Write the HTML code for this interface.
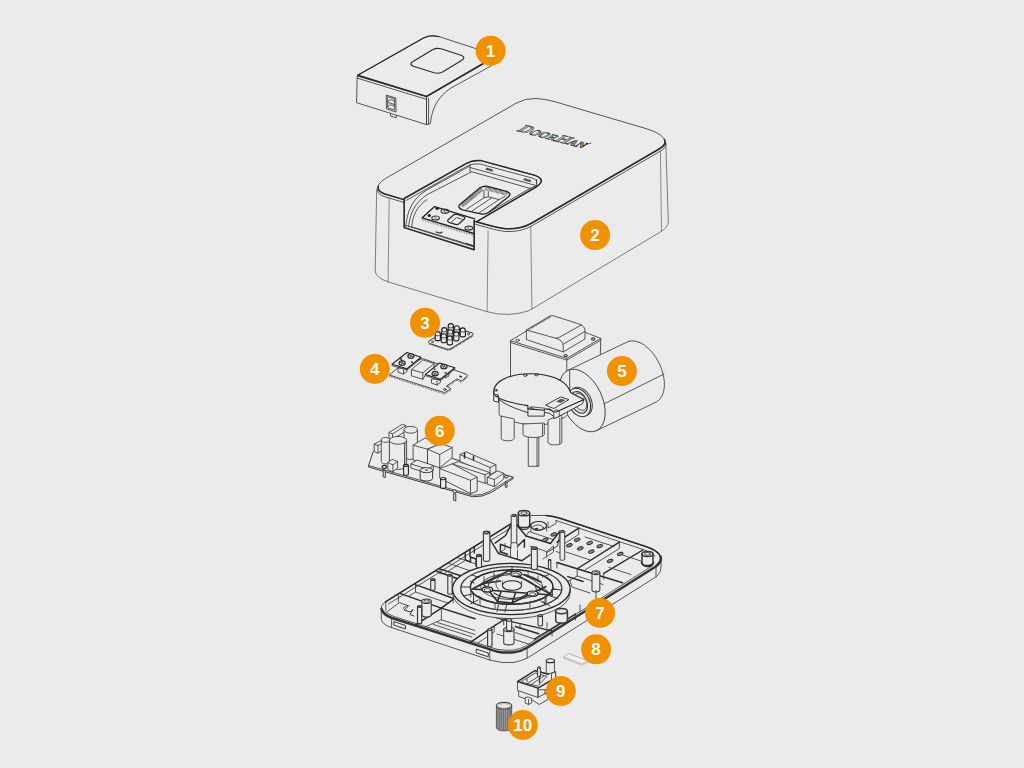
<!DOCTYPE html>
<html><head><meta charset="utf-8">
<style>
html,body{margin:0;padding:0;background:#ebebeb;overflow:hidden}
svg{display:block}
.l{fill:none;stroke:#3a3a3a;stroke-width:.85;stroke-linecap:round;stroke-linejoin:round}
.t{fill:none;stroke:#2a2a2a;stroke-width:1.5;stroke-linecap:round;stroke-linejoin:round}
.f{fill:#ebebeb;stroke:#3a3a3a;stroke-width:.85;stroke-linejoin:round}
.g{fill:none;stroke:#9a9a9a;stroke-width:.6;stroke-linejoin:round}
.b circle{fill:#f29100}
.b text{fill:#fff;font-family:"Liberation Sans",sans-serif;font-weight:bold;font-size:17px;text-anchor:middle}
</style></head>
<body>
<svg width="1024" height="768" viewBox="0 0 1024 768">
<rect width="1024" height="768" fill="#ebebeb"/>
<g id="p1">
<path class="f" d="M357.7 75.3 L423.5 38 Q430.5 34.3 439 36.6 L497 55.5 L426.5 96.5 Z"/>
<path class="f" d="M357.2 76 L356.6 102.7 L426.5 124.6 L426.5 96.5 Z"/>
<path class="f" d="M426.5 124.6 L430.3 123.6 C432 108 438 96.5 451 88 L491 66 L497 56 L426.5 96.5 Z"/>
<path class="t" d="M357.7 75.3 L426.5 96.5 L497 55.5"/><path class="l" style="stroke-width:1.15;stroke:#2a2a2a" d="M357.7 75.3 L423.5 38 Q430.5 34.3 439 36.6"/>
<path class="l" d="M357.4 78.2 L426.3 99.3 M426.5 96.5 L426.5 124.6 M428.6 98 L428.6 124"/>
<path class="l" style="stroke-width:1.15;stroke:#2a2a2a" d="M413 61.5 L432.5 49.8 Q436.5 47.6 441 48.8 L461 55.3 Q466.5 57.3 461.5 60.6 L442.5 72 Q438.5 74 434 72.8 L413.5 66.3 Q408.5 64.3 413 61.500 Z"/>
<path class="l" d="M386.6 95.2 L395.8 98 L396 112 L386.8 109 Z M388 96.7 L394.6 98.8 L394.7 110 L388.1 108 Z M388.2 101 Q391.5 98 394.5 101.6 M388.2 106 Q391.5 103.200 394.500 106.800 M388.200 102.5 L394.5 104.500"/>
<path class="l" d="M390.5 113.600 L390.500 116 L396.300 117.800 L396.300 115.400"/>
</g>
<g id="p2">
<!-- body -->
<path class="f" style="stroke-width:.7;stroke:#4a4a4a" d="M376.7 189 L375.2 271 Q375.5 277.500 388.100 281.900 L487.100 311.700 Q508 317.500 528 311 L531.9 309 L660 232.200 Q668.300 227 668.300 222 L665.800 143 Z"/>
<!-- top face -->
<path class="f" d="M379 184 Q382.500 180 387 177.600 L516 103.300 Q525 98 536 98.500 Q545 99 554.200 101.500 L646 128.600 Q659 132.500 663.500 138 Q667.500 143.500 660 148.500 L531 223.500 Q520 229.500 505.800 228.750 Q497 228 475.600 221.500 L403.750 199.600 L384 193.700 Q375 190.500 379 184 Z"/>
<path class="t" d="M378.200 186.500 Q377.300 190.800 384 193.700 L403.750 199.600 M475.600 221.500 Q497 228 505.800 228.750 Q520 229.500 531 223.500 L660 148.500 Q667 144 664.500 139.500"/>
<path class="l" d="M377.500 190.500 Q378 194.500 384 196.500 L403.750 202.400 M475.600 224.300 Q497 230.800 505.800 231.500 Q520 232.300 531 226.300 L661 150.800 Q666.500 147.500 666 143.500"/>
<path class="l" style="stroke-width:.65;stroke:#555" d="M389.200 198 L388.100 281.900 M488.100 230.800 L487.100 311.700 M530.800 227 L531.900 309 M660.400 151.500 L661.500 231.500"/>
</g>
<g id="p2cut">
<path class="f" d="M404.200 198.500 L466 163.600 Q473 159.600 481 160.600 L535 175.400 Q543.500 178.300 540.500 183 Q539.500 185 536 187 L476.700 221.700 L474.200 220.400 L474.200 249.800 L404.200 227.600 Z"/>
<path class="t" d="M404.200 227.600 L404.200 198.500 L466 163.600 Q473 159.600 481 160.600 L535 175.400 Q543.500 178.300 540.500 183 Q539.500 185 536 187 L476.700 221.700 M474.200 220.400 L474.200 249.800 L404.200 227.600"/>
<!-- inner rim -->
<path class="l" d="M406 200.500 L467 166.200 Q473 163 480 164 L532 178 Q538.500 180.300 536.500 183.500"/>
<path class="l" d="M470 164.500 L470 171.500 M536.600 179.500 L536.600 185.500"/>
<!-- back wall -->
<path class="l" d="M470 167.500 L536 185.500 M471.700 171.700 L530 188.400 M530 188.400 L536.500 185.700"/>
<path d="M486 167.500 l7 2 l-.5 2.300 l-7 -2z M524 178 l7 2 l-.5 2.300 l-7 -2z" fill="#555"/>
<!-- left curved wall -->
<path class="l" d="M405.800 226.500 C407 212 412 199 426 190.500 L469 166.500"/>
<path class="l" d="M408.500 227 C410 213 415 202 428 194.200 L471.700 171.700"/>
<path class="l" d="M411.500 227.500 C412.500 216 416.500 206.500 427 199.500"/>
<!-- floor lines -->
<path class="l" d="M530 188.400 L489 212.200"/>
<!-- fingerprint rect -->
<path class="f" d="M460.500 204 L480 187.800 Q483.500 185.600 487.500 186.500 L506.500 191.300 Q512 193.300 508.500 196.800 L488.500 212.500 Q485 214.800 481 213.800 L462.500 209.800 Q456.500 207.500 460.500 204 Z" style="stroke-width:1.35;stroke:#222"/>
<path d="M461.800 205.800 L482.300 188.800" fill="none" stroke="#444" stroke-width="4" stroke-dasharray=".55 .5"/>
<path d="M485.500 188.200 L507.500 194" fill="none" stroke="#444" stroke-width="4" stroke-dasharray=".55 .7"/>
<path class="l" d="M484 190.500 L484 197.800 L466.500 209.200 M488.300 191.500 L488.300 196.800 L484 197.800 M488.300 196.800 L499 199.600 M472 211 L491.500 198 M479.500 212.600 L499 199.600 L505 196.300"/>
<!-- front panel -->
<path class="l" d="M434.600 206.600 L474.700 218.800 M422 217.900 L434.600 206.600 M422 217.900 L473.700 233.500" style="stroke-width:1.35;stroke:#222"/>
<path d="M422 219.800 L473.700 235.400" fill="none" stroke="#666" stroke-width="1.800" stroke-dasharray=".6 1.1"/>
<ellipse cx="437.100" cy="208.600" rx="1.700" ry="1.500" fill="#222"/><ellipse cx="444.900" cy="211.200" rx="3.800" ry="2" class="l" style="stroke-width:1.200"/><path class="l" d="M443 209.500 L446 213"/>
<ellipse cx="429.300" cy="215.400" rx="1.700" ry="1.500" fill="#222"/><ellipse cx="435.600" cy="218" rx="3.800" ry="2" class="l" style="stroke-width:1.200"/><path class="l" d="M434 216.300 L437 219.800"/>
<ellipse cx="468.800" cy="228.100" rx="3.800" ry="2" class="l" style="stroke-width:1.200"/><path class="l" d="M467 226.400 L470 229.900"/>
<path class="t" d="M448.200 219.700 L453.500 215 Q455 214 457 214.500 L463.500 216.500 Q465.800 217.500 464.300 219 L459 223.800 Q457.500 225 455.500 224.400 L449 222.400 Q446.800 221.300 448.200 219.700 Z" style="stroke-width:1.200"/>
<path class="l" d="M451.500 222 L456.500 217.500 L462 219.200"/>
<!-- bottom bar -->
<path class="l" d="M411.700 226.800 L473.300 245.800 M406 225.500 L474 247"/>
<path class="l" d="M436 232 l4 1.200 l2 -1 M466 243.500 l7 2.200" style="stroke-width:1.300"/>
</g>
<g opacity=".99" transform="matrix(1.536,0.410,-1.42,0.90,516.2,130.7)"><text x="0" y="0" font-family="'Liberation Serif',serif" font-weight="bold" font-size="10" fill="#b5b5b5" stroke="#151515" stroke-width=".36"><tspan>D</tspan><tspan font-size="7.5">OOR</tspan><tspan>H</tspan><tspan font-size="7.5">AN</tspan></text></g>
<circle cx="590.300" cy="143.300" r=".7" fill="#333"/>
<g id="p3">
<path class="f" d="M429.300 340.700 L452 327 L472.500 333 Q474 334 472.500 335.300 L451 348.500 Q449 349.700 446.500 349 L429.500 343.500 Q427.300 342.300 429.300 340.700 Z" style="stroke-width:1"/>
<path d="M429 343.800 L447 349.800 Q449 350.500 451 349.300 L473 335.800" fill="none" stroke="#444" stroke-width="1.500" stroke-dasharray=".8 .8"/>
<circle cx="432.500" cy="341.800" r="1" class="l"/><circle cx="468.500" cy="334" r="1" class="l"/>
<path d="M448.2 331.5 L448.2 326.5 A2.6 2.9 0 0 1 453.4 326.5 L453.4 331.5 A2.6 1.2 0 0 1 448.2 331.5Z" fill="#ebebeb" stroke="#1e1e1e" stroke-width="1.15"/><path d="M448.4 326.8 A2.4 1.1 0 0 0 453.2 326.8" class="l"/>
<path d="M454.2 333.6 L454.2 328.6 A2.6 2.9 0 0 1 459.4 328.6 L459.4 333.6 A2.6 1.2 0 0 1 454.2 333.6Z" fill="#ebebeb" stroke="#1e1e1e" stroke-width="1.15"/><path d="M454.4 328.9 A2.4 1.1 0 0 0 459.2 328.9" class="l"/>
<path d="M460.2 335.7 L460.2 330.7 A2.6 2.9 0 0 1 465.4 330.7 L465.4 335.7 A2.6 1.2 0 0 1 460.2 335.7Z" fill="#ebebeb" stroke="#1e1e1e" stroke-width="1.15"/><path d="M460.4 331.0 A2.4 1.1 0 0 0 465.2 331.0" class="l"/>
<path d="M441.7 335.5 L441.7 330.5 A2.6 2.9 0 0 1 446.9 330.5 L446.9 335.5 A2.6 1.2 0 0 1 441.7 335.5Z" fill="#ebebeb" stroke="#1e1e1e" stroke-width="1.15"/><path d="M441.9 330.8 A2.4 1.1 0 0 0 446.7 330.8" class="l"/>
<path d="M447.7 337.6 L447.7 332.6 A2.6 2.9 0 0 1 452.9 332.6 L452.9 337.6 A2.6 1.2 0 0 1 447.7 337.6Z" fill="#ebebeb" stroke="#1e1e1e" stroke-width="1.15"/><path d="M447.9 332.9 A2.4 1.1 0 0 0 452.7 332.9" class="l"/>
<path d="M453.7 339.7 L453.7 334.7 A2.6 2.9 0 0 1 458.9 334.7 L458.9 339.7 A2.6 1.2 0 0 1 453.7 339.7Z" fill="#ebebeb" stroke="#1e1e1e" stroke-width="1.15"/><path d="M453.9 335.0 A2.4 1.1 0 0 0 458.7 335.0" class="l"/>
<path d="M435.2 339.5 L435.2 334.5 A2.6 2.9 0 0 1 440.4 334.5 L440.4 339.5 A2.6 1.2 0 0 1 435.2 339.5Z" fill="#ebebeb" stroke="#1e1e1e" stroke-width="1.15"/><path d="M435.4 334.8 A2.4 1.1 0 0 0 440.2 334.8" class="l"/>
<path d="M441.2 341.6 L441.2 336.6 A2.6 2.9 0 0 1 446.4 336.6 L446.4 341.6 A2.6 1.2 0 0 1 441.2 341.6Z" fill="#ebebeb" stroke="#1e1e1e" stroke-width="1.15"/><path d="M441.4 336.9 A2.4 1.1 0 0 0 446.2 336.9" class="l"/>
<path d="M447.2 343.7 L447.2 338.7 A2.6 2.9 0 0 1 452.4 338.7 L452.4 343.7 A2.6 1.2 0 0 1 447.2 343.7Z" fill="#ebebeb" stroke="#1e1e1e" stroke-width="1.15"/><path d="M447.4 339.0 A2.4 1.1 0 0 0 452.2 339.0" class="l"/>
</g>
<g id="p4">
<!-- board -->
<path class="f" d="M389.400 375 L406 361 L423.700 358.800 L467 374.500 Q468.300 375.300 467.200 376.300 L461.400 381 L457 378.800 L446.500 386 L450.900 388.500 L444.750 392.700 Z" style="stroke-width:.9"/>
<path d="M389.400 376.200 L444.750 394 L450.900 389.700" fill="none" stroke="#555" stroke-width="1.500" stroke-dasharray=".7 1"/>
<path d="M446.800 387 L457 380 L461.400 382.200 L467.500 377.200" fill="none" stroke="#555" stroke-width="1.300" stroke-dasharray=".7 .9"/>
<circle cx="444.800" cy="389.400" r="1.100" class="l" style="stroke-width:1"/><rect x="459.500" y="375.500" width="2.600" height="1.600" fill="#333" transform="rotate(18 460 376)"/>
<!-- left terminal under-box -->
<path class="f" d="M398 368 L398 372.200 L403.500 374 L407 371.500 L407 368.500 Z"/><path class="l" d="M403.500 370 L403.500 374"/>
<!-- left terminal plate -->
<path class="f" d="M392 364.300 L407 352.500 L421 357.300 L407 368.700 Z" style="stroke-width:1.100;stroke:#222"/>
<path class="l" d="M392 365.600 L407 370 L421 358.600"/>
<ellipse cx="410.9" cy="356" rx="3.1" ry="2.3" class="f" style="stroke-width:1.1;stroke:#222"/><path class="l" d="M408.29999999999995 355 L413.5 357 M409.7 357.9 L412.09999999999997 354.1"/><ellipse cx="402.1" cy="363" rx="3.1" ry="2.3" class="f" style="stroke-width:1.1;stroke:#222"/><path class="l" d="M399.5 362 L404.70000000000005 364 M400.90000000000003 364.9 L403.3 361.1"/>
<path class="t" d="M400.300 357.500 L402 361"/><rect x="411" y="361.500" width="2" height="1.300" fill="#222"/>
<!-- relay box -->
<path class="f" d="M411.400 369.600 L422.800 359.900 L434.200 363.500 L434.200 368 L425.400 375 L422.800 379.300 L411.400 375.750 Z"/>
<path class="l" d="M411.400 369.600 L422.800 372.900 L434.200 363.500 M422.800 372.900 L422.800 379.300"/>
<!-- right terminal under-box -->
<path class="f" d="M431.500 379 L431.500 383.200 L437 385 L440.400 382.500 L440.400 379.500 Z"/><path class="l" d="M437 381 L437 385"/>
<path class="f" d="M445 375 L445 378 L449 376 L449 373 Z"/>
<!-- right terminal plate -->
<path class="f" d="M425.400 374.400 L439.500 363 L454.900 367.800 L440.400 379.300 Z" style="stroke-width:1.100;stroke:#222"/>
<path class="l" d="M425.400 375.700 L440.400 380.600 L454.900 369.100"/>
<ellipse cx="443.9" cy="366.5" rx="3.1" ry="2.3" class="f" style="stroke-width:1.1;stroke:#222"/><path class="l" d="M441.29999999999995 365.5 L446.5 367.5 M442.7 368.4 L445.09999999999997 364.6"/><ellipse cx="435.1" cy="373.6" rx="3.1" ry="2.3" class="f" style="stroke-width:1.1;stroke:#222"/><path class="l" d="M432.5 372.6 L437.70000000000005 374.6 M433.90000000000003 375.5 L436.3 371.70000000000005"/>
<rect x="433.500" y="368.500" width="2" height="1.300" fill="#222"/><rect x="444.500" y="372.200" width="2" height="1.300" fill="#222"/>
<path class="l" d="M389.400 369 L384 372.500"/>
</g>
<g id="p5">
<!-- box -->
<path class="f" d="M510.500 340.700 L548 318 L600.800 338.400 L600.200 360 L566.800 378 L566.800 380 L516 378.200 L510.500 376.500 Z"/>
<path class="l" d="M510.500 340.700 L566.800 358.300 L600.800 338.400 M566.800 358.300 L566.800 372 M510.600 342.500 L566.800 360.100 L600.700 340.200"/>
<ellipse cx="517.600" cy="340.300" rx="1.700" ry="1.100" class="l"/><ellipse cx="593.200" cy="339" rx="1.700" ry="1.100" class="l" style="stroke-width:1.100"/><ellipse cx="565.600" cy="355.600" rx="1.700" ry="1.100" class="l" style="stroke-width:1.100"/>
<!-- lid -->
<path class="f" d="M526.400 330 L550 316 Q551.600 315.200 553.500 315.800 L580 324.300 Q585 326.300 585 331 L585 339 L563.300 351.900 L526.400 339.600 Z"/>
<path class="l" d="M526.400 330 L556 338.300 Q562.500 340 563.300 346 L563.300 351.900 M556 338.300 Q560 337.500 562 335.800 L581.500 324.900 M563.600 344 L585 331.400"/>
<path d="M528.500 329.600 L551 316.500" fill="none" stroke="#444" stroke-width="1.500" stroke-dasharray=".7 .7"/>
<path class="f" d="M567.8 370.4 L627.8 341.7 A19.9 33.4 -25.6 0 1 656.6 401.9 L596.6 430.6 Z"/><ellipse class="f" cx="582.2" cy="400.5" rx="19.9" ry="33.4" transform="rotate(-25.6 582.2 400.5)"/><path class="l" d="M604.2 403.8 L663.9 374.1"/><ellipse class="f" cx="580.9" cy="401.6" rx="10.4" ry="15" transform="rotate(-25.6 580.9 401.6)" style="stroke-width:1"/><ellipse class="f" cx="579.2" cy="402.4" rx="10.4" ry="15" transform="rotate(-25.6 579.2 402.4)" style="stroke-width:1.1"/><ellipse class="f" cx="579.2" cy="402.4" rx="7.6" ry="11.4" transform="rotate(-25.6 579.2 402.4)" style="stroke-width:1.1"/><ellipse class="f" cx="580.2" cy="401.9" rx="5.8" ry="9" transform="rotate(-25.6 580.2 401.9)" style="stroke-width:0.8"/>
<path class="l" d="M569.700 370 L569.700 392"/>
<!-- gear cover lower body -->
<path class="f" d="M499.100 400 L499.100 414.700 Q502 418.500 507.300 420.200 Q521 424.500 535 425 Q545 425 548.400 423.600 L564.800 417.400 L567.500 414.700 L567.500 405 Z"/>
<!-- legs -->
<path class="f" d="M501.200 416 L501.200 438.500 A6.500 2.300 0 0 0 514.200 438.500 L514.200 419 Z"/>
<path class="f" d="M548 420 L548 442.500 A6.900 2.400 0 0 0 561.800 442.500 L561.800 414 Z"/>
<path class="l" d="M559.800 418 L559.800 443.800"/>
<path class="f" d="M528.300 430 L528.300 466.300 L538.800 466.300 L538.800 430 Z"/><path class="l" d="M537 436 L537 466"/>
<path class="f" d="M523 424 L523 434.500 A10.650 3 0 0 0 544.300 434.500 L544.300 423 Z"/><path class="l" d="M542.500 424 L542.500 435.500"/>
<!-- gear cover rim (lower outline) -->
<path class="f" d="M493.700 392 L493.700 401 L498.500 402.400 L498.500 398.500 C503 403.500 513 408 527.900 412.600 L527.900 416.100 L544.300 416.100 L544.300 412.500 L549 413 L553.800 416.500 L553.800 418.800 L559.200 416.300 L582.500 403.750 L583.900 399.600 L553.500 411 Z" style="stroke-width:1"/>
<!-- gear cover top -->
<path class="f" d="M493.700 391.700 C493.700 380 512 373.400 532 373.700 C549 374 563.500 379.500 568.900 388.700 L570.900 392.800 L583.900 399.600 L556.600 411.700 L553.800 412 L549.500 409 L545 409 L544.300 410.300 L527.900 408.900 L527.900 405.600 C508 402.500 493.700 398.500 493.700 391.700 Z" style="stroke-width:1.100;stroke:#222"/>
<path class="l" d="M498.500 398.500 L498.500 395.200 M527.900 412.600 L527.900 408.900 M544.300 412.500 L544.300 410.300 M553.800 412 L553.800 416.500 M559.200 410.700 L559.200 416.300 M527.900 408.900 L531 406.800 L545 408.200"/>
<path class="f" d="M545.600 405.100 L560.700 396.900 L568.900 399.600 L553.800 408.500 Z" style="stroke-width:1"/>
<path d="M556 401.500 L561 398.700 L565.500 400.100 L560.500 403 Z" fill="#555"/>
<ellipse cx="495.800" cy="390.300" rx="1.600" ry="1" class="l" style="stroke-width:1"/><ellipse cx="496.800" cy="395.600" rx="1.600" ry="1.100" class="l" style="stroke-width:1"/>
<ellipse cx="525.300" cy="375.300" rx="1.700" ry="1.100" class="l" style="stroke-width:1"/><ellipse cx="536.300" cy="374.800" rx="1.700" ry="1.100" class="l" style="stroke-width:1"/>
<ellipse cx="531.500" cy="408.500" rx="1.500" ry="1" class="l"/><ellipse cx="556.500" cy="410.500" rx="1.300" ry=".9" class="l"/>
</g>
<g id="p6">
<!-- board -->
<path class="f" d="M373.300 451.400 L392 440 L513.100 477.200 L513.100 478.700 L491.500 492.300 Q482 497.500 472.500 496.700 L368.600 467 L368.600 465.500 Z" style="stroke-width:1"/>
<path class="l" d="M368.600 465.500 L472.500 495.200 Q482 496 490 491.200 L513.100 477.200"/>
<!-- pins -->
<path class="f" d="M383.200 470 L383.200 477 L385.300 477.500 L385.300 470.500 Z M453.700 493.500 L453.700 500.300 L455.800 500.800 L455.800 494 Z M505.300 481.500 L505.300 487 L507 487.300 L507 481.800 Z" style="stroke-width:1"/>
<ellipse cx="454.700" cy="491.300" rx="2" ry="1.300" class="f" style="stroke-width:1"/><ellipse cx="506.200" cy="476.800" rx="1.800" ry="1.200" class="f" style="stroke-width:1"/>
<path class="f" d="M389 432.500 L402.300 424.250 L405.800 425.400 L405.800 431 L392.500 439.500 L389 438.500 Z"/><path class="l" d="M389 432.500 L392.500 434 L405.800 425.400 M392.500 434 L392.500 439.500"/><path class="f" d="M374.2 444.2 L380.8 440.7 L384.5 442 L384.5 449 L378 453.20000000000005 L374.2 451.59999999999997 Z"/><path class="l" d="M374.2 444.2 L378 445.6 L384.5 442 M378 445.6 L378 453.20000000000005"/><path class="f" d="M404.0 429.8 L404.0 456.0 A6.7 3.4 0 0 0 417.4 456.0 L417.4 429.8 Z"/><ellipse class="f" cx="410.7" cy="429.8" rx="6.7" ry="3.4"/><path class="f" d="M413.1 445.2 L424.8 438.1 L441.25 443.6 L441.25 453.6 L427.5 463.9 L413.1 460.0 Z"/><path class="l" d="M413.1 445.2 L427.5 449.2 L441.25 443.6 M427.5 449.2 L427.5 463.9"/><path class="f" d="M381.3 439.9 L381.3 461.5 A4.2 2.4 0 0 0 389.7 461.5 L389.7 439.9 Z"/><ellipse class="f" cx="385.5" cy="439.9" rx="4.2" ry="2.4"/><path class="f" d="M389.4 440.3 L389.4 465.5 A8.6 3.9 0 0 0 406.6 465.5 L406.6 440.3 Z"/><ellipse class="f" cx="398" cy="440.3" rx="8.6" ry="3.9"/><path class="l" d="M404.700 443.200 L404.700 468" style="stroke-width:1.100"/><path class="f" d="M427.5 449.2 L441.25 443.6 L452.2 447.5 L452.2 457.7 L439.7 467.8 L427.5 463.9 Z"/><path class="l" d="M427.5 449.2 L439.7 454.5 L452.2 447.5 M439.7 454.5 L439.7 467.8"/><path class="f" d="M460 454.5 L466 451.8 L495.9 464.7 L495.9 471.7 L490 474.5 L460 461.5 Z"/><path class="l" d="M460 454.5 L490 467.5 L495.9 464.7 M490 467.5 L490 474.5"/><path class="t" d="M464.500 453 L464.500 458 M473.500 456.200 L473.500 460"/><path class="f" d="M452.2 463.9 L458.4 461.6 L489.7 472.5 L489.7 481.1 L485 483.40000000000003 L452.2 471.9 Z"/><path class="l" d="M452.2 463.9 L485 474.8 L489.7 472.5 M485 474.8 L485 483.40000000000003"/><path class="f" d="M487.3 477.2 L497.5 470.9 L503.75 473.3 L503.75 478.8 L494.4 486.6 L487.3 484.2 Z"/><path class="l" d="M487.3 477.2 L494.4 479.5 L503.75 473.3 M494.4 479.5 L494.4 486.6"/><path class="f" d="M439.7 468.6 L452.2 463.9 L477.2 477.2 L477.2 491.2 L470.5 493.6 L439.7 478.0 Z"/><path class="l" d="M439.7 468.6 L470.5 480.3 L477.2 477.2 M470.5 480.3 L470.5 493.6"/><path class="f" d="M410.800 463.900 L417 460 L433.400 465.500 L433.400 470 L430 474 L410.800 468 Z"/><path class="l" d="M410.800 463.900 L428 469.300 L433.400 465.500"/><path class="f" d="M420.2 470.2 L420.2 478.5 A6.2 2.5 0 0 0 432.6 478.5 L432.6 470.2 Z" style="stroke-width:1"/><ellipse class="f" cx="426.4" cy="470.2" rx="6.2" ry="2.5" style="stroke-width:1"/><rect x="425" y="469.600" width="3" height="1.100" fill="#444"/><path class="f" d="M387.8 462.5 L392.1 459.4 L397.6 461.4 L397.6 468.0 L392.9 471.9 L387.8 469.6 Z"/><path class="l" d="M387.8 462.5 L392.9 464.9 L397.6 461.4 M392.9 464.9 L392.9 471.9"/><ellipse cx="384.300" cy="467" rx="2.200" ry="1.600" fill="none" stroke="#222" stroke-width="1.100"/><path class="f" d="M403.6 465.4 L403.6 474.3 A2.4 1 0 0 0 408.4 474.3 L408.4 465.4 Z" style="stroke-width:1.100;stroke:#222"/><ellipse class="f" cx="406" cy="465.4" rx="2.4" ry="1" style="stroke-width:1.100;stroke:#222"/><path class="f" d="M440.6 478.6 L440.6 487.3 A2.6 1.1 0 0 0 445.8 487.3 L445.8 478.6 Z" style="stroke-width:1.100;stroke:#222"/><ellipse class="f" cx="443.2" cy="478.6" rx="2.6" ry="1.1" style="stroke-width:1.100;stroke:#222"/></g>
<!--P7s--><g id="p7">
<path class="f" d="M381.300 608 L381.300 619.500 Q383 625 391.600 627.600 L490.500 660.200 Q503 663.800 514 662.400 Q522 661 528.600 657.250 L655 577.500 Q661 573.500 661 567 L661 560 Z"/>
<path class="f" d="M385.500 601.800 L514 521.800 Q522 516.300 532 515.500 L546 515.500 Q553 516 560 518.200 L648 547.300 Q657 550.500 660 555.500 Q663 561.500 655 567 L528 647.200 Q521 651.500 514 652.300 Q506 653.200 496.400 651.400 L392 618 Q384 615 381.800 610.500 Q380 605.500 385.500 601.800 Z"/>
<path class="t" d="M381.500 609 Q383.500 615 392 618 L496.400 651.400 Q506 653.200 514 652.300 Q521 651.500 528 647.200 L655 567 Q662.500 561.500 660.500 556.500" style="stroke-width:2.500;stroke:#333"/>
<path class="t" d="M385.500 601.800 L514 521.800 M546 515.500 Q553 516 560 518.200 L648 547.300 Q657 550.500 660 555.500" style="stroke-width:1.450"/>
<path class="l" d="M388.500 604 L516 524.600 M556 520.500 L644 549.800 Q652 552.500 655 556 M386 611.500 Q388 614.500 394 616.500 L497 649.300 Q506 651 514 650 Q520 649.300 526.500 645.500 L652 566"/>
<path class="l" d="M391.600 618 L391.600 627.600 M489.800 650 L489.800 660.200 M527.100 648 L527.100 658 M656 567 L656 577"/>
<path class="l" d="M394.200 621.700 L405.400 625.400 L405.400 629 L394.200 625.300 Z M476.600 649.200 L488.300 653 L488.300 656.800 L476.600 653 Z" style="stroke-width:1"/>
<path class="t" d="M399.900 593.400 L441.400 608.100 L475 618.800 M415.500 584.600 L453.100 598.300 M416 624.700 L441.400 608.100 L453.100 599.300 M437 571.500 L470 583" style="stroke-width:1.450"/>
<path class="l" d="M398.400 594.500 L398.400 602 M415.500 584.600 L415.500 592 L409 596 M415.500 592 L449 603.500 M441.400 608.100 L441.400 619.800 L425.800 626.600 M441.400 619.800 L475 630.500 M437.500 622.500 L475 634.500 M433.500 624.500 L472 637 M388 611 L399.400 602.700 L409 606 M453.100 598.300 L453.100 603 M385.800 602 L385.800 610.500"/>
<path class="l" d="M403 608.500 l3.500 -3 l1.500 1 l-4 3.500 l6 2 l3 -2.500 l-3 5 l4 1.500" style="stroke-width:1"/>
<path class="t" d="M440 568.900 L466 577.500 M465.200 553 L465.200 560 L470.500 562 L470.500 557 L476 559 L476 566 L483 568 M470 550 L470 556.500 M474.300 547.500 L474.300 553" style="stroke-width:1.450"/>
<path class="l" d="M440 568.900 L440 574 M449 563.500 L478 573.500 M458 557.800 L486 567.500 M445 573 L466 560"/>
<path class="t" d="M489.800 539 L498.600 553.600 L522 560.700 L530 555 M511.500 523.750 L505.600 535.500 L495.100 543.100 M500.400 544.300 L500.400 551.900 L507.500 554.300 M500.400 544.300 L510.300 547.800 M517.900 546 L524.400 539.600 L524.400 547.200 M516.800 525 L526 536 L550.500 543.500 L560 531" style="stroke-width:1.450"/>
<path class="l" d="M498.600 553.600 L505 549 L505 543.500 M510.500 548 L510.500 556.800 M517.500 550 L517.500 559.200 M522 560.700 L531.500 554 M530 546 L546.500 551.500 L553.500 546 L553.500 552 L543 559 M546.500 551.500 L546.500 557 M526 536 L529 531.500 L553 539.500"/>
<ellipse class="t" cx="538.600" cy="525.800" rx="8" ry="4.300" style="stroke-width:1.200"/><ellipse class="l" cx="537.800" cy="527.800" rx="5.500" ry="2.800"/><ellipse cx="536.500" cy="528.800" rx="1.800" ry="1" fill="#333"/>
<path class="l" d="M531 526 L531 531.500 M546.600 526 L546.600 531 M548 522 L548 528 L556 523.500 L556 520.500"/>
<path class="t" d="M578.750 528.100 L556.900 542.200 M619.400 542.200 L577.200 568.750 M642.800 550 L603.750 573.400 M556.900 562.500 L577.200 568.750 L622.500 582.800 M567.800 576.600 L583 581.500" style="stroke-width:1.450"/>
<path class="l" d="M578.750 528.100 L578.750 534.500 L560 546.500 M619.400 542.200 L619.400 548.500 L585 570 M577.200 568.750 L577.200 576 L565 583 M577.200 576 L603 584.500 M556.900 562.500 L556.900 568 M603.750 573.400 L603.750 579 M585 537 L614 546.500 M566 552 L590 560 M622.500 555 L641 561 M609 567.500 L631 574.500 M570 580.500 L572 587 L590 593 M556 551.500 L564 554"/>
<ellipse cx="553.75" cy="534.4" rx="3.100" ry="1.500" fill="#8a8a8a" stroke="#222" stroke-width=".9" transform="rotate(-18 553.75 534.4)"/>
<ellipse cx="545.2" cy="539.8" rx="3.100" ry="1.500" fill="#8a8a8a" stroke="#222" stroke-width=".9" transform="rotate(-18 545.2 539.8)"/>
<ellipse cx="577.2" cy="539.8" rx="3.100" ry="1.500" fill="#8a8a8a" stroke="#222" stroke-width=".9" transform="rotate(-18 577.2 539.8)"/>
<ellipse cx="569.4" cy="545.3" rx="3.100" ry="1.500" fill="#8a8a8a" stroke="#222" stroke-width=".9" transform="rotate(-18 569.4 545.3)"/>
<ellipse cx="589.7" cy="543" rx="3.100" ry="1.500" fill="#8a8a8a" stroke="#222" stroke-width=".9" transform="rotate(-18 589.7 543)"/>
<ellipse cx="580.3" cy="548.4" rx="3.100" ry="1.500" fill="#8a8a8a" stroke="#222" stroke-width=".9" transform="rotate(-18 580.3 548.4)"/>
<ellipse cx="599.8" cy="546.1" rx="3.100" ry="1.500" fill="#8a8a8a" stroke="#222" stroke-width=".9" transform="rotate(-18 599.8 546.1)"/>
<ellipse cx="591.25" cy="551.6" rx="3.100" ry="1.500" fill="#8a8a8a" stroke="#222" stroke-width=".9" transform="rotate(-18 591.25 551.6)"/>
<ellipse cx="620.2" cy="553.9" rx="3.100" ry="1.500" fill="#8a8a8a" stroke="#222" stroke-width=".9" transform="rotate(-18 620.2 553.9)"/>
<ellipse cx="610" cy="560.9" rx="3.100" ry="1.500" fill="#8a8a8a" stroke="#222" stroke-width=".9" transform="rotate(-18 610 560.9)"/>
<path class="t" d="M470 609.600 L503.700 619.900 L552 630.900 M470 642.600 L494.200 625.800 L510 616 M534.500 639 L575.500 614 M515.400 626.500 L538.800 633.800" style="stroke-width:1.450"/>
<path class="l" d="M494.200 625.800 L494.200 632 L478 643 M503.700 619.900 L503.700 625 M520 623.700 L520 629 M552 630.900 L552 636 M515 632.500 L536 639.500 M547 622.500 L547 628 M580 605 L580 611.500 M575.500 614 L575.500 620 M497 634 L530 644.500"/>
<path class="f" d="M452.5 589 L452.5 593 A58.800 25.600 0 0 0 570.1 593 L570.1 589 Z"/>
<ellipse class="f" cx="511.3" cy="589" rx="58.800" ry="25.600" style="stroke-width:1.300;stroke:#222"/>
<ellipse class="f" cx="511.3" cy="588.5" rx="50.600" ry="21.900" style="stroke-width:1.200"/>
<path class="l" d="M461.0 591 A50.600 21.900 0 0 0 561.6 591"/>
<ellipse class="f" cx="511.7" cy="587" rx="41.400" ry="17.300" style="stroke-width:1.500;stroke:#222"/>
<path class="l" d="M470.5 588.6 A41.400 17.300 0 0 0 552.9 588.6 M471.2 590.4 A41.400 17.300 0 0 0 552.2 590.4"/>
<ellipse class="l" cx="511.7" cy="586.5" rx="31" ry="13"/>
<path class="l" d="M461 587 L470.500 587 M463.500 596 L472.500 594 M470.500 604 L478 600 M561.500 590 L553 589 M558 598.500 L550 596 M550 606 L543 601.500 M472 575 L479 577.500 M549 574.500 L542.500 577 M497 611.500 L498.500 605 M505 612 L506.500 605.500 M473.500 594 L473.500 603 M546 596 L546 604 M540.500 601 L546 604.500" style="stroke-width:1"/>
<path class="t" d="M509 570.500 L472.500 589 L552 595 Z M483 583.500 L497.500 601.500 L512 603 L546 586.500 M497.500 601.500 L501 592 M512 603 L515.500 593 M483 583.500 L500.500 581 M524 574.500 L541 582" style="stroke-width:1.450"/>
<path class="l" d="M509 570.500 C495 577 492 585 501 592 M509 570.500 C530 575 538 583 552 595 M472.500 589 C485 580 500 575.500 509 570.500 M484 576.500 L484 582 M494 572.500 L494 577.500 M538 576 L538 581.500 M528 572 L528 577"/>
<ellipse class="f" cx="512" cy="585.500" rx="9.600" ry="4.800" style="stroke-width:1.100;stroke:#222"/>
<path class="l" d="M502.400 585.500 L502.400 581 M521.600 585.500 L521.600 581"/>
<ellipse class="f" cx="516.1" cy="573.9" rx="5.300" ry="2.700" style="stroke-width:1.100;stroke:#222"/><ellipse class="l" cx="516.1" cy="574.4" rx="3.300" ry="1.600"/>
<ellipse class="f" cx="487.4" cy="589.6" rx="5.300" ry="2.700" style="stroke-width:1.100;stroke:#222"/><ellipse class="l" cx="487.4" cy="590.1" rx="3.300" ry="1.600"/>
<ellipse class="f" cx="532.5" cy="593.75" rx="5.300" ry="2.700" style="stroke-width:1.100;stroke:#222"/><ellipse class="l" cx="532.5" cy="594.25" rx="3.300" ry="1.600"/>
<path class="l" d="M516 577 C528 579 538 585 536 591 M527 594 C520 600 505 600 494 593 M488 586 C490 579 500 575 510 574.500 M478 596 L486 600.500 M540 599 L534 602 M512 570.500 L512 566.500 M474 583 L470.500 581 M551 590 L555 589" style="stroke-width:1.100"/>
<path class="l" d="M470.800 589 L470.800 597 M480 598 L480 604.500 M495 602.500 L495 608 M530 602 L530 607.500 M545 596 L545 602 M552.500 590 L552.500 595.500"/>
<path class="f" d="M518.3 513.2 L518.3 525.0 A5.7 2.6 0 0 0 529.7 525.0 L529.7 513.2 Z" style="stroke-width:1.5"/><ellipse class="f" cx="524.0" cy="513.2" rx="5.7" ry="2.6" style="stroke-width:1.5"/><ellipse class="l" cx="524.0" cy="513.2" rx="3.1" ry="1.4"/>
<path class="t" d="M517.500 524.500 Q519 529.500 524 529.500 Q529.500 529.500 530.500 524.500" style="stroke-width:1.200"/>
<path class="f" d="M511.2 515.5 L511.2 546.0 A2.8 1.2 0 0 0 516.8 546.0 L516.8 515.5 Z" style="stroke-width:1"/><ellipse class="f" cx="514.0" cy="515.5" rx="2.8" ry="1.2" style="stroke-width:1"/><ellipse class="l" cx="514.0" cy="515.5" rx="1.5" ry="0.7"/>
<path class="f" d="M511 548.500 L511 544.500 A3.200 2 0 0 1 517.400 544.500 L517.400 548.500"/>
<path class="f" d="M483.4 532.5 L483.4 560.0 A3.2 1.4 0 0 0 489.8 560.0 L489.8 532.5 Z" style="stroke-width:1.1"/><ellipse class="f" cx="486.6" cy="532.5" rx="3.2" ry="1.4" style="stroke-width:1.1"/><ellipse class="l" cx="486.6" cy="532.5" rx="1.8" ry="0.8"/>
<path class="f" d="M476.5 555.5 L476.5 566.5 A2.5 1.1 0 0 0 481.5 566.5 L481.5 555.5 Z" style="stroke-width:1.1"/><ellipse class="f" cx="479.0" cy="555.5" rx="2.5" ry="1.1" style="stroke-width:1.1"/><ellipse class="l" cx="479.0" cy="555.5" rx="1.4" ry="0.6"/>
<path class="f" d="M560.0 531.5 L560.0 559.4 A2.4 1.1 0 0 0 564.7 559.4 L564.7 531.5 Z" style="stroke-width:1"/><ellipse class="f" cx="562.4" cy="531.5" rx="2.4" ry="1.1" style="stroke-width:1"/><ellipse class="l" cx="562.4" cy="531.5" rx="1.3" ry="0.6"/>
<path class="l" d="M560 532.500 L557.500 546 L547 552.500" style="stroke-width:1"/>
<path class="f" d="M531.4 548.2 L531.4 568.3 A2.9 1.3 0 0 0 537.3 568.3 L537.3 548.2 Z" style="stroke-width:1.1"/><ellipse class="f" cx="534.3" cy="548.2" rx="2.9" ry="1.3" style="stroke-width:1.1"/><ellipse class="l" cx="534.3" cy="548.2" rx="1.6" ry="0.7"/>
<path class="f" d="M548.4 560.0 L548.4 568.9 A1.2 0.5 0 0 0 550.8 568.9 L550.8 560.0 Z" style="stroke-width:1.05"/><ellipse class="f" cx="549.6" cy="560.0" rx="1.2" ry="0.5" style="stroke-width:1.05"/>
<path class="f" d="M642.0 553.9 L642.0 563.0 A5.5 2.5 0 0 0 653.0 563.0 L653.0 553.9 Z" style="stroke-width:1.5"/><ellipse class="f" cx="647.5" cy="553.9" rx="5.5" ry="2.5" style="stroke-width:1.5"/><ellipse class="l" cx="647.5" cy="553.9" rx="3.0" ry="1.4"/>
<path class="t" d="M641.500 562.500 Q643 566.500 647.500 566.500 Q652.500 566.500 653.500 562.500" style="stroke-width:1.500"/>
<path class="f" d="M592.0 572.7 L592.0 590.0 A3.9 1.9 0 0 0 599.8 590.0 L599.8 572.7 Z" style="stroke-width:1.05"/><ellipse class="f" cx="595.9" cy="572.7" rx="3.9" ry="1.9" style="stroke-width:1.05"/><ellipse class="l" cx="595.9" cy="572.7" rx="2.1" ry="1.0"/>
<path class="l" d="M596 590.500 L596 598 L601 600.500"/>
<path class="f" d="M430.7 579.5 L430.7 589.5 A2.2 1.0 0 0 0 435.0 589.5 L435.0 579.5 Z" style="stroke-width:1.1"/><ellipse class="f" cx="432.9" cy="579.5" rx="2.2" ry="1.0" style="stroke-width:1.1"/><ellipse class="l" cx="432.9" cy="579.5" rx="1.2" ry="0.5"/>
<path class="f" d="M447.8 575.3 L447.8 593.4 A2.2 1.0 0 0 0 452.1 593.4 L452.1 575.3 Z" style="stroke-width:1.1"/><ellipse class="f" cx="449.9" cy="575.3" rx="2.2" ry="1.0" style="stroke-width:1.1"/><ellipse class="l" cx="449.9" cy="575.3" rx="1.2" ry="0.5"/>
<path class="f" d="M421.9 601.2 L421.9 615.0 A4.7 2.3 0 0 0 431.2 615.0 L431.2 601.2 Z" style="stroke-width:1.05"/><ellipse class="f" cx="426.5" cy="601.2" rx="4.7" ry="2.3" style="stroke-width:1.05"/><ellipse class="l" cx="426.5" cy="601.2" rx="2.6" ry="1.3"/>
<path class="f" d="M417.5 606.4 L417.5 622.7 A2.1 0.9 0 0 0 421.7 622.7 L421.7 606.4 Z" style="stroke-width:1.2"/><ellipse class="f" cx="419.6" cy="606.4" rx="2.1" ry="0.9" style="stroke-width:1.2"/><ellipse class="l" cx="419.6" cy="606.4" rx="1.2" ry="0.5"/>
<path class="f" d="M555.7 611.1 L555.7 620.5 A5.8 2.6 0 0 0 567.4 620.5 L567.4 611.1 Z" style="stroke-width:1.5"/><ellipse class="f" cx="561.5" cy="611.1" rx="5.8" ry="2.6" style="stroke-width:1.5"/>
<path class="f" d="M538.0 615.6 L538.0 625.0 A2.2 1.0 0 0 0 542.5 625.0 L542.5 615.6 Z" style="stroke-width:1.1"/><ellipse class="f" cx="540.2" cy="615.6" rx="2.2" ry="1.0" style="stroke-width:1.1"/>
<path class="f" d="M503.7 629.4 L503.7 643.0 A5.2 2.2 0 0 0 514.0 643.0 L514.0 629.4 Z" style="stroke-width:1.05"/><ellipse class="f" cx="508.9" cy="629.4" rx="5.2" ry="2.2" style="stroke-width:1.05"/><ellipse class="l" cx="508.9" cy="629.4" rx="2.8" ry="1.2"/>
<path class="f" d="M506.6 620.0 L506.6 629.4 A2.5 1.3 0 0 0 511.7 629.4 L511.7 620.0 Z" style="stroke-width:1.05"/><ellipse class="f" cx="509.1" cy="620.0" rx="2.5" ry="1.3" style="stroke-width:1.05"/>
<path class="f" d="M487.6 629.5 L487.6 645.5 A2.2 1.0 0 0 0 492.0 645.5 L492.0 629.5 Z" style="stroke-width:1.2"/><ellipse class="f" cx="489.8" cy="629.5" rx="2.2" ry="1.0" style="stroke-width:1.2"/>
</g><!--P7e-->
<g id="p8"><path d="M563.600 657 L568.700 653.500 L588.300 660.800 L582.300 664.200 Z" fill="#f0f0f0" stroke="#a6a6a6" stroke-width=".8" stroke-linejoin="round"/><path d="M563.600 657 L563.600 658.300 L582.300 665.500 L588.300 662.100 L588.300 660.800" fill="none" stroke="#b5b5b5" stroke-width=".7"/></g>
<g id="p9">
<path class="f" d="M546.250 660.800 L546.250 673.400 L554.500 675 L554.500 660.800 Z"/><ellipse class="f" cx="550.400" cy="660.800" rx="4.100" ry="2" style="stroke-width:1.100;stroke:#222"/>
<path class="f" d="M518.700 689 L518.700 696.300 L525.700 699.200 L525.700 697.500 L531.600 699.500 L539.200 704.500 L548 699.500 L548 690 Z"/>
<path class="f" d="M525.200 697.500 L525.200 703 L528.500 704.500 L531.600 703 L531.600 698.500 L528 697 Z"/><path class="l" d="M528.500 699.500 L528.500 704.500"/>
<path class="f" d="M517.500 681.600 L535.100 670.500 L548 674 L555.600 671.700 L555.600 678 L538 688.100 L538 697.500 L517.500 690.400 Z"/>
<path class="t" d="M517.500 681.600 L535.100 670.500 L548.500 674.300 M517.500 681.600 L538 688.100 L555.600 677.500" style="stroke-width:1.300"/>
<path class="l" d="M538 688.100 L538 697.500 L548 692 M521 681.800 L535.200 673 L547 676.300 L537.800 685.800 Z M527.500 683.500 L541 674.800 M531 684.700 L544.500 675.700 M527 678.500 L527 682 M545 690 L545 694"/>
<path class="f" d="M537.500 667.500 L537.500 676.500 L540.400 677 L540.400 667.500 Z" style="stroke-width:1"/><ellipse class="f" cx="538.950" cy="667.500" rx="1.450" ry=".8" style="stroke-width:1"/>
<path class="l" d="M539.500 676.500 L539.500 682.500" style="stroke-width:1.300"/>
<path class="f" d="M551.500 673.500 L551.500 680 L555.600 678 L555.600 671.700 Z"/>
</g>
<g id="p10">
<path d="M496.400 705.700 L496.400 727.600 A7.650 3.300 0 0 0 511.700 727.600 L511.700 705.700 Z" fill="#9a9a9a" stroke="#555" stroke-width=".9"/>
<path d="M498 708 V729 M499.800 708.500 V730 M501.600 709 V730.500 M503.500 709 V730.800 M505.500 709 V730.700 M507.400 709 V730.300 M509.200 708.500 V729.800 M510.700 708 V729" stroke="#666" stroke-width=".8" fill="none"/>
<path d="M502.500 709 V730.600 M506.400 709 V730.500" stroke="#9a9a9a" stroke-width=".8" fill="none"/>
<ellipse cx="504.050" cy="705.700" rx="7.650" ry="3.300" fill="#ebebeb" stroke="#444" stroke-width="1.100"/><ellipse cx="504.050" cy="705.900" rx="5.600" ry="2.200" fill="none" stroke="#999" stroke-width=".6"/>
</g>
<g class="b">
<circle cx="490.6" cy="50.7" r="15"/><text x="490.6" y="56.7">1</text>
<circle cx="595.1" cy="235.1" r="15"/><text x="595.1" y="241.1">2</text>
<circle cx="425" cy="322.8" r="15"/><text x="425" y="328.8">3</text>
<circle cx="374.8" cy="369" r="15"/><text x="374.8" y="375">4</text>
<circle cx="621.9" cy="371.1" r="15"/><text x="621.9" y="377.1">5</text>
<circle cx="439.7" cy="430.8" r="15"/><text x="439.7" y="436.8">6</text>
<circle cx="600" cy="613" r="15"/><text x="600" y="619">7</text>
<circle cx="596.1" cy="649.3" r="15"/><text x="596.1" y="655.3">8</text>
<circle cx="560.8" cy="691" r="15"/><text x="560.8" y="697">9</text>
<circle cx="522.8" cy="725" r="15"/><text x="522.8" y="731">10</text>
</g>
</svg>
</body></html>
